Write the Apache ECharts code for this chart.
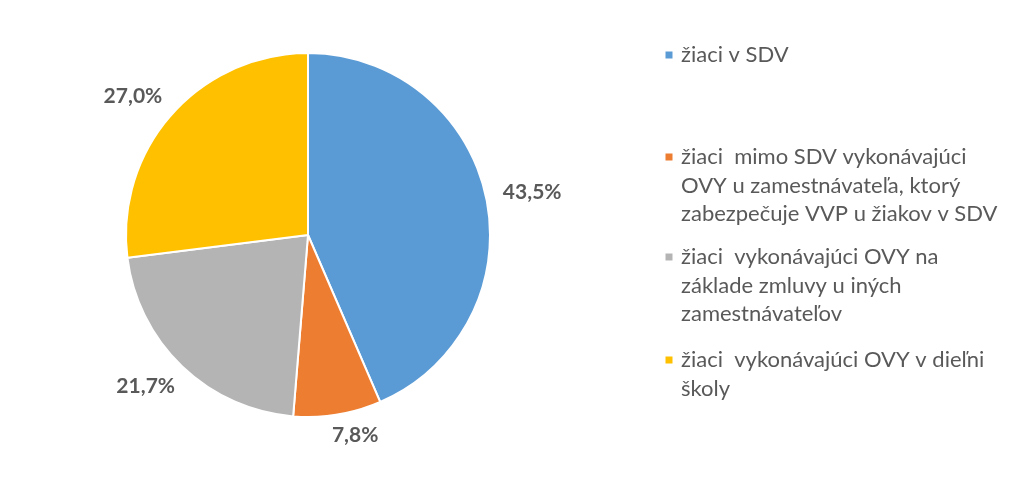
<!DOCTYPE html>
<html><head><meta charset="utf-8">
<script src="https://cdn.jsdelivr.net/npm/echarts@6/dist/echarts.min.js"></script>
<style>html,body{margin:0;padding:0;background:#fff}#c{width:1024px;height:479px}</style>
</head><body><div id="c"></div>
<script>
const categories = [
  'žiaci v SDV',
  'žiaci  mimo SDV vykonávajúci OVY u zamestnávateľa, ktorý zabezpečuje VVP u žiakov v SDV',
  'žiaci  vykonávajúci OVY na základe zmluvy u iných zamestnávateľov',
  'žiaci  vykonávajúci OVY v dieľni školy'
];
const legendLines = [
  ['žiaci v SDV'],
  ['žiaci  mimo SDV vykonávajúci', 'OVY u zamestnávateľa, ktorý', 'zabezpečuje VVP u žiakov v SDV'],
  ['žiaci  vykonávajúci OVY na', 'základe zmluvy u iných', 'zamestnávateľov'],
  ['žiaci  vykonávajúci OVY v dieľni', 'školy']
];
const values = [43.5, 7.8, 21.7, 27.0];
const colors = ['#5B9BD5', '#ED7D31', '#B4B4B4', '#FFC000'];

const CX = 308, CY = 235, R = 182, GAP = 18;
const LH = 28.5;
const firstLineY = [55, 157, 257, 360];
const legends = categories.map((name, i) => {
  const n = legendLines[i].length;
  return {
    data: [name],
    left: 663.5,
    top: firstLineY[i] - LH / 2 - (n - 1) * LH,
    orient: 'vertical',
    icon: 'path://M0,0h9v9h-9z',
    itemWidth: 14,
    itemHeight: 9,
    itemGap: 0,
    padding: 0,
    selectedMode: false,
    formatter: () => '\n'.repeat(n - 1) + legendLines[i].join('\n'),
    textStyle: {
      fontFamily: 'Lato',
      fontSize: 22,
      color: '#595959',
      lineHeight: LH
    }
  };
});

const total = values.reduce((a, b) => a + b, 0);
function midAngle(i) {
  let before = 0;
  for (let k = 0; k < i; k++) before += values[k];
  return (before + values[i] / 2) / total * 2 * Math.PI;
}

const chart = echarts.init(document.getElementById('c'), null, {renderer: 'canvas'});
chart.setOption({
  animation: false,
  backgroundColor: '#fff',
  color: colors,
  legend: legends,
  series: [{
    type: 'pie',
    center: [CX, CY],
    radius: R,
    startAngle: 90,
    clockwise: true,
    avoidLabelOverlap: false,
    itemStyle: {borderColor: '#fff', borderWidth: 2},
    label: {
      show: true,
      position: 'outside',
      formatter: p => p.value.toFixed(1).replace('.', ',') + '%',
      fontFamily: 'Lato',
      fontWeight: 'bold',
      fontSize: 21,
      color: '#595959'
    },
    labelLine: {show: false, length: 10, length2: 0},
    labelLayout: function (p) {
      const a = midAngle(p.dataIndex);
      const ux = Math.sin(a), uy = -Math.cos(a);
      const r = p.labelRect;
      const w = r.width, h = r.height;
      const d = R + GAP + Math.abs(ux) * w / 2 + Math.abs(uy) * h / 2;
      const radialX = CX + ux * d, radialY = CY + uy * d;
      const sideX = r.x + w / 2, sideY = r.y + h / 2;
      return {
        x: (radialX + sideX) / 2,
        y: (radialY + sideY) / 2,
        align: 'center',
        verticalAlign: 'middle'
      };
    },
    data: categories.map((c, i) => ({name: c, value: values[i]}))
  }]
});
</script></body></html>
